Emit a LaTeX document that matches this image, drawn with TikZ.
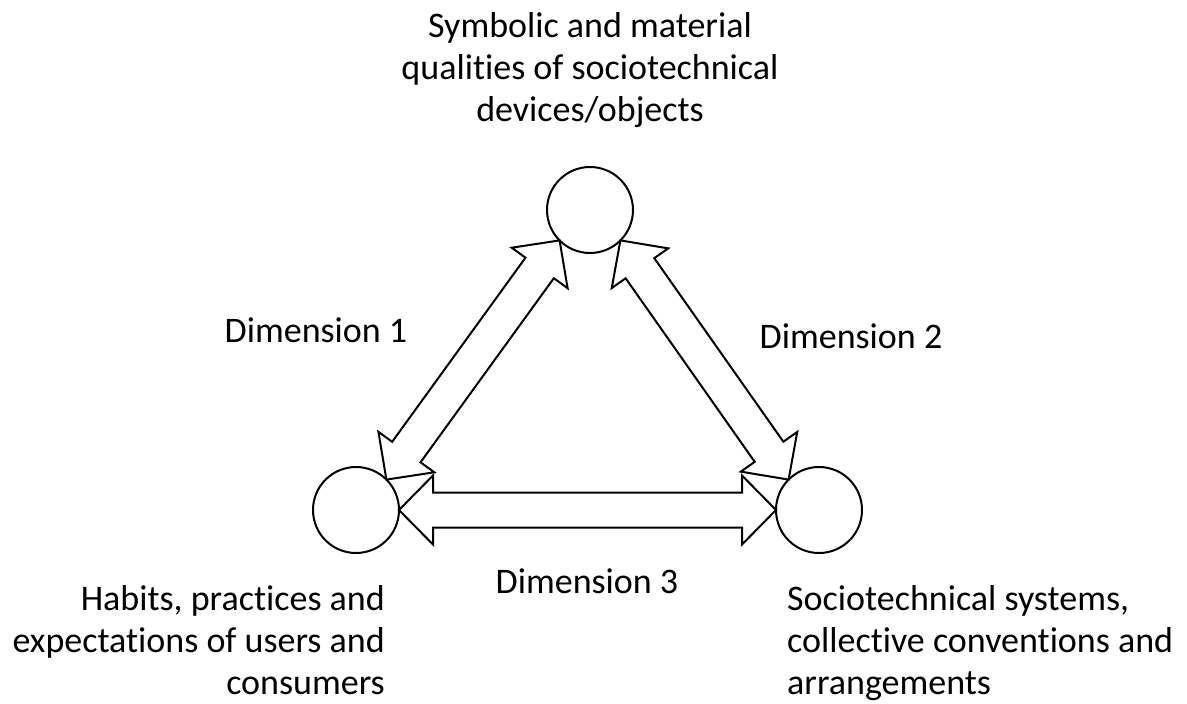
\documentclass[tikz,border=0pt]{standalone}
\usepackage{fontspec}
\setmainfont{Carlito}[Ligatures=NoCommon]
\usetikzlibrary{calc}
\tikzset{
  hub/.style={circle, draw, line width=2pt, minimum size=86pt, inner sep=0pt, outer sep=0pt},
  flow/.style={draw, fill=white, line width=2pt, line join=miter},
  lbl/.style={inner sep=0pt, font=\fontsize{36}{42}\selectfont},
}
% geometry of the two-headed block arrows
\newcommand\ahlen{34pt}
\newcommand\ahwid{34.5pt}
\newcommand\shwid{17.5pt}
% block arrow with a head at each end, tips at #1 and #2
\newcommand\biarrow[2]{%
  \draw[flow] (#1)
    -- ($(#1)!\ahlen!(#2)!\ahwid!90:(#2)$)
    -- ($(#1)!\ahlen!(#2)!\shwid!90:(#2)$)
    -- ($(#2)!\ahlen!(#1)!\shwid!-90:(#1)$)
    -- ($(#2)!\ahlen!(#1)!\ahwid!-90:(#1)$)
    -- (#2)
    -- ($(#2)!\ahlen!(#1)!\ahwid!90:(#1)$)
    -- ($(#2)!\ahlen!(#1)!\shwid!90:(#1)$)
    -- ($(#1)!\ahlen!(#2)!\shwid!-90:(#2)$)
    -- ($(#1)!\ahlen!(#2)!\ahwid!-90:(#2)$)
    -- cycle;}
\begin{document}
\begin{tikzpicture}[x=1pt, y=-1pt]
\useasboundingbox (0,0) rectangle (1187,704);
% the three poles
\node[hub] (objects) at (590,210) {};
\node[hub] (users)   at (356,510) {};
\node[hub] (systems) at (819,510) {};
% relations between the poles
\biarrow{users.45}{objects.225}
\biarrow{objects.315}{systems.135}
\biarrow{users.east}{systems.west}
% captions (multi-line nodes are placed by the baseline of their last line)
\node[lbl, align=center, anchor=base] (objtext) at (590,121)
  {Symbolic and material\\qualities of sociotechnical\\devices/objects};
\node[lbl, align=right, anchor=base east] (usrtext) at (385,694)
  {Habits, practices and\\expectations of users and\\consumers};
\node[lbl, align=left, anchor=base west] (systext) at (787,694)
  {Sociotechnical systems,\\collective conventions and\\arrangements};
\node[lbl, anchor=base] (dim1) at (316,342) {Dimension 1};
\node[lbl, anchor=base] (dim2) at (851,348) {Dimension 2};
\node[lbl, anchor=base] (dim3) at (587,593) {Dimension 3};
\end{tikzpicture}
\end{document}
